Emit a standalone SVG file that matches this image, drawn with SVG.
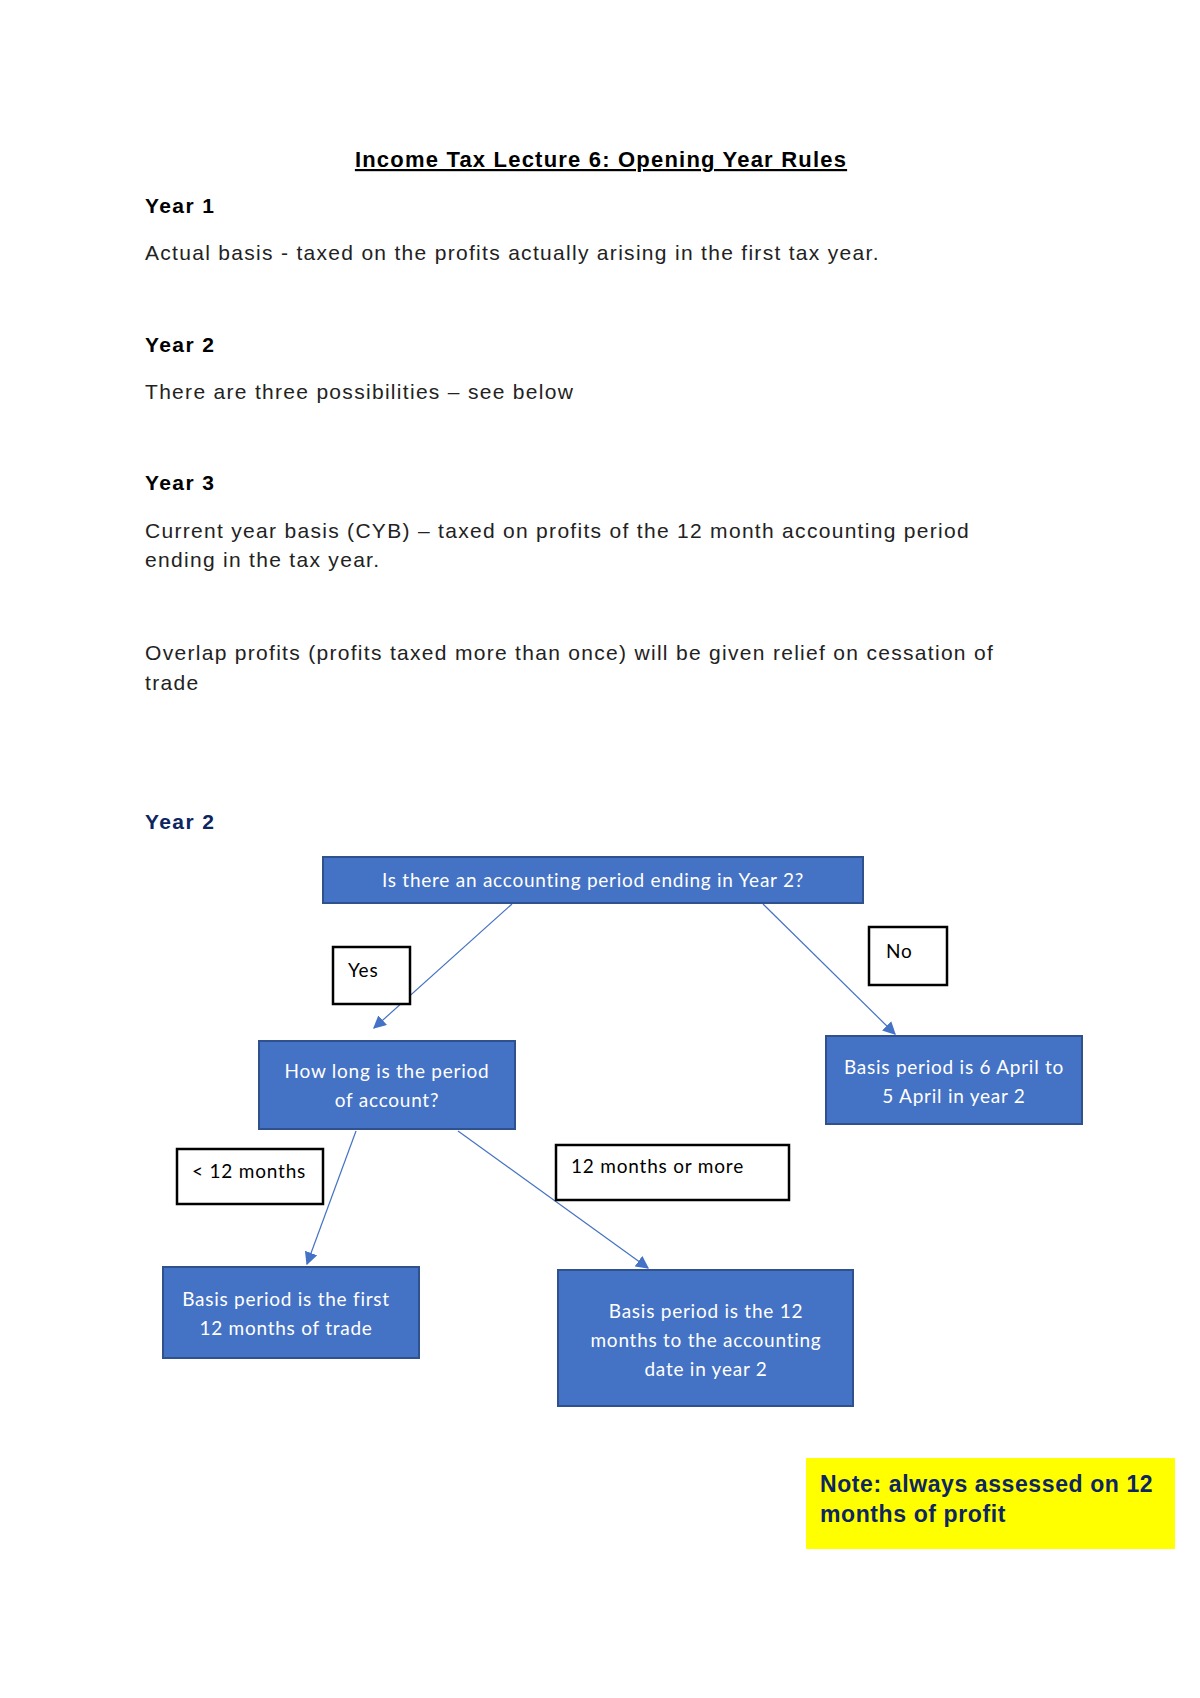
<svg xmlns="http://www.w3.org/2000/svg" width="1200" height="1698" viewBox="0 0 1200 1698">
<defs>
<style>
.body{font-family:"Liberation Sans",Arial,sans-serif;font-size:21px;fill:#222;letter-spacing:1.3px;}
.head{font-family:"Liberation Sans",Arial,sans-serif;font-size:21px;font-weight:bold;fill:#000;letter-spacing:1.4px;}
.title{font-family:"Liberation Sans",Arial,sans-serif;font-size:22px;font-weight:bold;fill:#000;text-decoration:underline;letter-spacing:1.2px;}
.blue{fill:#4472C4;stroke:#2F528F;stroke-width:2;}
.lab{fill:#fff;stroke:#000;stroke-width:2.5;}
.nt{font-family:Lato,"Open Sans",sans-serif;font-size:19px;fill:#fff;text-anchor:middle;letter-spacing:0.75px;}
.lt{font-family:Lato,"Open Sans",sans-serif;font-size:19px;fill:#000;letter-spacing:0.8px;}
.conn{stroke:#4472C4;stroke-width:1.2;fill:none;marker-end:url(#arr);}
.note{font-family:"Liberation Sans",Arial,sans-serif;font-size:23px;font-weight:bold;fill:#0D2560;letter-spacing:0.6px;}
</style>
<marker id="arr" viewBox="0 0 10 10" refX="9" refY="5" markerWidth="13" markerHeight="13" markerUnits="userSpaceOnUse" orient="auto">
<path d="M0,0 L10,5 L0,10 z" fill="#4472C4"/>
</marker>
</defs>
<rect width="1200" height="1698" fill="#fff"/>
<g id="text">
<text class="title" x="601" y="167" text-anchor="middle">Income Tax Lecture 6: Opening Year Rules</text>
<text class="head" x="145" y="213">Year 1</text>
<text class="body" x="145" y="260">Actual basis - taxed on the profits actually arising in the first tax year.</text>
<text class="head" x="145" y="352">Year 2</text>
<text class="body" x="145" y="399">There are three possibilities – see below</text>
<text class="head" x="145" y="490">Year 3</text>
<text class="body" x="145" y="538">Current year basis (CYB) – taxed on profits of the 12 month accounting period</text>
<text class="body" x="145" y="567">ending in the tax year.</text>
<text class="body" x="145" y="660">Overlap profits (profits taxed more than once) will be given relief on cessation of</text>
<text class="body" x="145" y="690">trade</text>
<text class="head" x="145" y="829" style="fill:#0D2560">Year 2</text>
</g>
<g id="connectors">
<line class="conn" x1="512" y1="904" x2="374" y2="1028"/>
<line class="conn" x1="763" y1="904" x2="895" y2="1034"/>
<line class="conn" x1="356" y1="1131" x2="307" y2="1264"/>
<line class="conn" x1="458" y1="1131" x2="648" y2="1268"/>
</g>
<g id="n-question">
<rect class="blue" x="323" y="857" width="540" height="46"/>
<text class="nt" x="593" y="887">Is there an accounting period ending in Year 2?</text>
</g>
<g id="l-yes">
<rect class="lab" x="333" y="947" width="77" height="57"/>
<text class="lt" x="348" y="977">Yes</text>
</g>
<g id="l-no">
<rect class="lab" x="869" y="927" width="78" height="58"/>
<text class="lt" x="886" y="958">No</text>
</g>
<g id="n-howlong">
<rect class="blue" x="259" y="1041" width="256" height="88"/>
<text class="nt" x="387" y="1078">How long is the period</text>
<text class="nt" x="387" y="1107">of account?</text>
</g>
<g id="n-april">
<rect class="blue" x="826" y="1036" width="256" height="88"/>
<text class="nt" x="954" y="1074">Basis period is 6 April to</text>
<text class="nt" x="954" y="1103">5 April in year 2</text>
</g>
<g id="l-less">
<rect class="lab" x="177" y="1149" width="146" height="55"/>
<text class="lt" x="192" y="1178">&lt; 12 months</text>
</g>
<g id="l-more">
<rect class="lab" x="556" y="1145" width="233" height="55"/>
<text class="lt" x="571" y="1173">12 months or more</text>
</g>
<g id="n-first">
<rect class="blue" x="163" y="1267" width="256" height="91"/>
<text class="nt" x="286" y="1306">Basis period is the first</text>
<text class="nt" x="286" y="1335">12 months of trade</text>
</g>
<g id="n-twelve">
<rect class="blue" x="558" y="1270" width="295" height="136"/>
<text class="nt" x="706" y="1318">Basis period is the 12</text>
<text class="nt" x="706" y="1347">months to the accounting</text>
<text class="nt" x="706" y="1376">date in year 2</text>
</g>
<g id="n-note">
<rect x="806" y="1458" width="369" height="91" fill="#FFFF00"/>
<text class="note" x="820" y="1492">Note: always assessed on 12</text>
<text class="note" x="820" y="1522">months of profit</text>
</g>
</svg>
